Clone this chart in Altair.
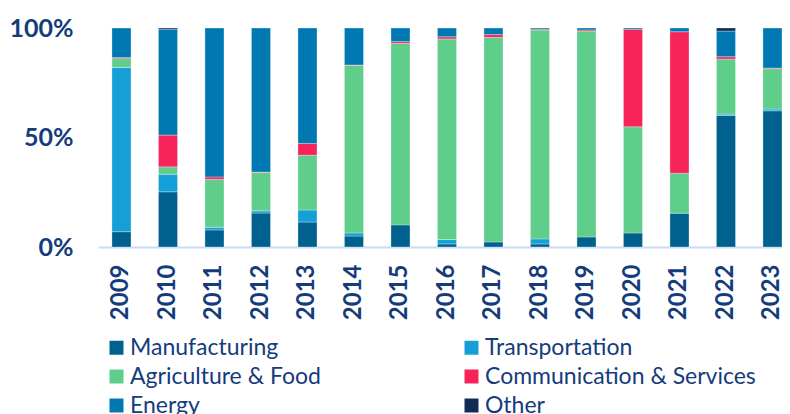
import altair as alt
import pandas as pd

years = [str(y) for y in range(2009, 2024)]
categories = ["Manufacturing", "Transportation", "Agriculture & Food",
              "Communication & Services", "Energy", "Other"]
colors = ["#00618F", "#14A0D6", "#5FCE8A", "#F7245A", "#0079B3", "#122B54"]

manufacturing = [7.0, 25.2, 7.8, 15.5, 11.4, 5.0, 10.1, 1.4, 2.3, 1.4, 4.6, 6.4, 15.4, 60.1, 62.2]
transportation = [75.0, 8.0, 1.2, 1.0, 5.5, 1.4, 0.0, 2.0, 0.0, 2.3, 0.0, 0.0, 0.0, 0.6, 0.8]
agriculture = [4.0, 3.4, 21.9, 17.5, 25.0, 76.5, 82.9, 91.6, 93.4, 95.4, 94.0, 48.5, 18.3, 25.1, 18.4]
communication = [0.5, 14.5, 1.1, 0.2, 5.4, 0.2, 0.8, 1.0, 1.3, 0.4, 0.5, 44.5, 64.6, 1.1, 0.3]
energy = [13.5, 48.3, 68.0, 65.8, 52.7, 16.9, 6.2, 4.0, 3.0, 0.5, 0.9, 0.6, 1.7, 11.7, 18.3]
other = [0.0, 0.6, 0.0, 0.0, 0.0, 0.0, 0.0, 0.0, 0.0, 0.0, 0.0, 0.0, 0.0, 1.4, 0.0]

series = [manufacturing, transportation, agriculture, communication, energy, other]
rows = []
for ci, (cat, vals) in enumerate(zip(categories, series)):
    for y, v in zip(years, vals):
        if v > 0:
            rows.append({"year": y, "sector": cat, "value": v, "ord": ci})
df = pd.DataFrame(rows)

FONT = "Lato"
NAVY = "#143C7C"

chart = alt.Chart(df).mark_bar(stroke="white", strokeWidth=0.6, strokeOpacity=0.5).encode(
    x=alt.X("year:N", sort=years,
            scale=alt.Scale(paddingInner=0.59, paddingOuter=0.15, align=1),
            axis=alt.Axis(title=None, labelAngle=-90, labelFontSize=24, labelFont=FONT,
                          labelFontWeight="bold", labelColor=NAVY, labelPadding=17,
                          ticks=False, domainColor="#C8DCF5", domainWidth=2,
                          labelBaseline="middle", labelAlign="right")),
    y=alt.Y("value:Q", stack="normalize",
            axis=alt.Axis(title=None, values=[0, 0.5, 1], format=".0%", grid=False,
                          domain=False, ticks=False, labelFontSize=25, labelFont=FONT,
                          labelFontWeight="bold", labelColor=NAVY, labelPadding=25)),
    color=alt.Color("sector:N", sort=categories,
                    scale=alt.Scale(domain=categories, range=colors),
                    legend=alt.Legend(title=None, orient="none", legendX=7, legendY=308,
                                      direction="horizontal",
                                      columns=2, symbolType="square", symbolSize=196,
                                      symbolStrokeWidth=0, labelFontSize=23, labelFont=FONT,
                                      labelColor=NAVY, labelOffset=2, rowPadding=5,
                                      columnPadding=139, labelLimit=400)),
    order=alt.Order("ord:Q", sort="ascending"),
).properties(
    width=684, height=219,
    autosize=alt.AutoSizeParams(type="none"),
    padding={"left": 90, "top": 20, "right": 0, "bottom": 167},
).configure_view(stroke=None)

chart.save("out.html", embed_options={"renderer": "svg", "actions": False})
